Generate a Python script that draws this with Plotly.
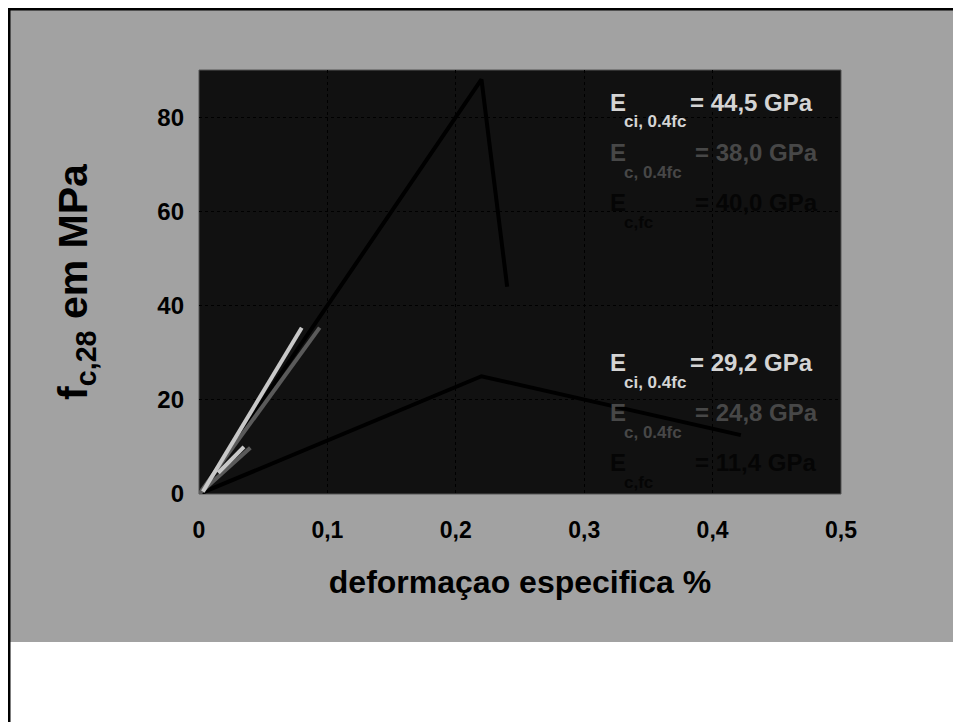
import plotly.graph_objects as go

# ---- data ----
upper_x = [0, 0.22, 0.24]
upper_y = [0, 88, 44]
lower_x = [0, 0.22, 0.422]
lower_y = [0, 25, 12.5]
light_long_x = [0.003, 0.080]
light_long_y = [0.5, 35.3]
dark_long_x = [0, 0.094]
dark_long_y = [0, 35.3]
light_short_x = [0.015, 0.035]
light_short_y = [4.5, 10]
dark_short_x = [0, 0.040]
dark_short_y = [0, 9.8]

x_ticks = [0, 0.1, 0.2, 0.3, 0.4, 0.5]
x_tick_labels = ["0", "0,1", "0,2", "0,3", "0,4", "0,5"]
y_ticks = [0, 20, 40, 60, 80]

block1_subs = ["ci, 0.4fc", "c, 0.4fc", "c,fc"]
block1_vals = ["= 44,5 GPa", "= 38,0 GPa", "= 40,0 GPa"]
block2_subs = ["ci, 0.4fc", "c, 0.4fc", "c,fc"]
block2_vals = ["= 29,2 GPa", "= 24,8 GPa", "= 11,4 GPa"]
row_colors = ["#d4d4d4", "#474747", "#050505"]

FONT = "Liberation Sans, Arial, sans-serif"

# ---- layout geometry (figure pixels; page adds an 8px body offset) ----
W, H = 961, 722
OFF = 8
L, R, T, B = 199 - OFF, 841 - OFF, 70 - OFF, 494 - OFF


def px(sx):
    """screen x -> paper x"""
    return (sx - OFF - L) / (R - L)


def py(sy):
    """screen y -> paper y"""
    return (B - (sy - OFF)) / (B - T)


fig = go.Figure()


def add_line(xs, ys, color, width):
    fig.add_trace(go.Scatter(x=xs, y=ys, mode="lines",
                             line=dict(color=color, width=width),
                             hoverinfo="skip", showlegend=False))


add_line(upper_x, upper_y, "#000000", 4)
add_line(lower_x, lower_y, "#000000", 4)
add_line(dark_long_x, dark_long_y, "#5a5a5a", 4)
add_line(dark_short_x, dark_short_y, "#5a5a5a", 4)
add_line(light_long_x, light_long_y, "#c8c8c8", 4)
add_line(light_short_x, light_short_y, "#c8c8c8", 4)

shapes = [
    # gray slide background
    dict(type="rect", xref="paper", yref="paper", layer="below",
         x0=px(0), x1=px(980), y0=py(642), y1=py(0),
         fillcolor="#a2a2a2", line=dict(width=0)),
    # dark plot area
    dict(type="rect", xref="paper", yref="paper", layer="below",
         x0=0, x1=1, y0=0, y1=1,
         fillcolor="#111111", line=dict(color="#555555", width=1)),
    # slide borders (left and top)
    dict(type="line", xref="paper", yref="paper",
         x0=px(OFF + 1), x1=px(OFF + 1), y0=py(740), y1=py(0),
         line=dict(color="#000000", width=3)),
    dict(type="line", xref="paper", yref="paper",
         x0=px(0), x1=px(980), y0=py(OFF + 1), y1=py(OFF + 1),
         line=dict(color="#000000", width=3)),
]

annotations = []


def add_block(subs, vals, y_first):
    for i, (s, v) in enumerate(zip(subs, vals)):
        yc = y_first + 50 * i
        c = row_colors[i]
        annotations.append(dict(text="E", x=px(608), y=py(yc), xref="paper", yref="paper",
                                xanchor="left", yanchor="middle", showarrow=False,
                                font=dict(family=FONT, size=24, color=c, weight="bold")))
        annotations.append(dict(text=s, x=px(622), y=py(yc + 20), xref="paper", yref="paper",
                                xanchor="left", yanchor="middle", showarrow=False,
                                font=dict(family=FONT, size=17, color=c, weight="bold")))
        annotations.append(dict(text=v, x=px(688 if i == 0 else 693), y=py(yc), xref="paper",
                                yref="paper", xanchor="left", yanchor="middle", showarrow=False,
                                font=dict(family=FONT, size=24, color=c, weight="bold")))


add_block(block1_subs, block1_vals, 102)
add_block(block2_subs, block2_vals, 362)

fig.update_layout(
    width=W, height=H,
    margin=dict(l=L, r=W - R, t=T, b=H - B, pad=0),
    paper_bgcolor="#ffffff",
    plot_bgcolor="rgba(0,0,0,0)",
    shapes=shapes,
    annotations=annotations,
    font=dict(family=FONT, color="#000000"),
    xaxis=dict(range=[0, 0.5], tickvals=x_ticks, ticktext=x_tick_labels,
               showgrid=True, gridcolor="#000000", griddash="dot", gridwidth=1,
               zeroline=False, showline=False, ticks="",
               ticklabelstandoff=20,
               tickfont=dict(family=FONT, size=23, color="#000000", weight="bold"),
               title=dict(text="deformaçao especifica %", standoff=28,
                          font=dict(family=FONT, size=32, color="#000000", weight="bold"))),
    yaxis=dict(range=[0, 90], tickvals=y_ticks,
               showgrid=True, gridcolor="#000000", griddash="dot", gridwidth=1,
               zeroline=False, showline=False, ticks="",
               ticklabelstandoff=14,
               tickfont=dict(family=FONT, size=24, color="#000000", weight="bold"),
               title=dict(text="f<sub>c,28</sub> em MPa", standoff=56,
                          font=dict(family=FONT, size=41, color="#000000", weight="bold"))),
)

fig.write_html("out.html")
